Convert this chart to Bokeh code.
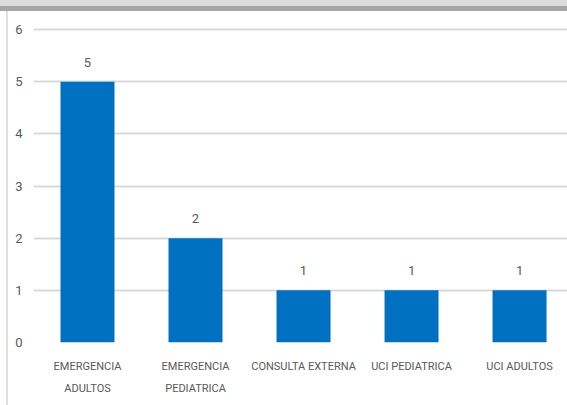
from bokeh.plotting import figure
from bokeh.models import ColumnDataSource, LabelSet, Range1d, FixedTicker, Div
from bokeh.layouts import column, row
from bokeh.core.properties import value
from bokeh.embed import file_html
from bokeh.resources import INLINE

categories = ["EMERGENCIA\nADULTOS", "EMERGENCIA\nPEDIATRICA", "CONSULTA EXTERNA", "UCI PEDIATRICA", "UCI ADULTOS"]
values = [5, 2, 1, 1, 1]
y_ticks = [0, 1, 2, 3, 4, 5, 6]

xs = list(range(len(categories)))
src = ColumnDataSource(dict(x=xs, top=values, label=[str(v) for v in values]))

FONT = "Roboto"
GREY_TXT = "#595959"

p = figure(width=559, height=394, output_backend="svg", toolbar_location=None,
           x_range=Range1d(-0.5, 4.444), y_range=Range1d(0, 6.326),
           min_border_left=25, min_border_right=0, min_border_top=1, min_border_bottom=63)
p.outline_line_color = None

p.vbar(x="x", top="top", width=0.5, source=src, fill_color="#0070C0", line_color=None)

labels = LabelSet(x="x", y="top", text="label", source=src, text_align="center",
                  text_baseline="bottom", y_offset=15, text_font=value(FONT),
                  text_font_size=value("13px"), text_color=GREY_TXT)
p.add_layout(labels)

p.xaxis.ticker = FixedTicker(ticks=xs)
p.xaxis.major_label_overrides = {i: c for i, c in zip(xs, categories)}
p.xaxis.major_label_text_font = FONT
p.xaxis.major_label_text_font_size = "11px"
p.xaxis.major_label_text_color = GREY_TXT
p.xaxis.major_label_text_line_height = 1.7
p.xaxis.major_label_standoff = 11
p.xaxis.axis_line_color = None
p.xaxis.major_tick_line_color = None
p.xaxis.minor_tick_line_color = None

p.yaxis.ticker = FixedTicker(ticks=y_ticks)
p.yaxis.major_label_text_font = FONT
p.yaxis.major_label_text_font_size = "13px"
p.yaxis.major_label_text_color = GREY_TXT
p.yaxis.major_label_standoff = 5
p.yaxis.axis_line_color = None
p.yaxis.major_tick_line_color = None
p.yaxis.minor_tick_line_color = None

p.xgrid.grid_line_color = None
p.ygrid.grid_line_color = "#d9d9d9"
p.ygrid.grid_line_width = 2

top_band = Div(text="", width=567, height=11, margin=0,
               styles={"background-color": "#dcdcdc", "border-bottom": "5px solid #a6a6a6",
                       "box-sizing": "border-box"})
left_line = Div(text="", width=8, height=394, margin=0,
                styles={"background-color": "#ffffff", "border-right": "2px solid #dedede",
                        "box-sizing": "border-box"})
layout = column(top_band, row(left_line, p, spacing=0), spacing=0)

open("out.html", "w").write(file_html(layout, INLINE))
